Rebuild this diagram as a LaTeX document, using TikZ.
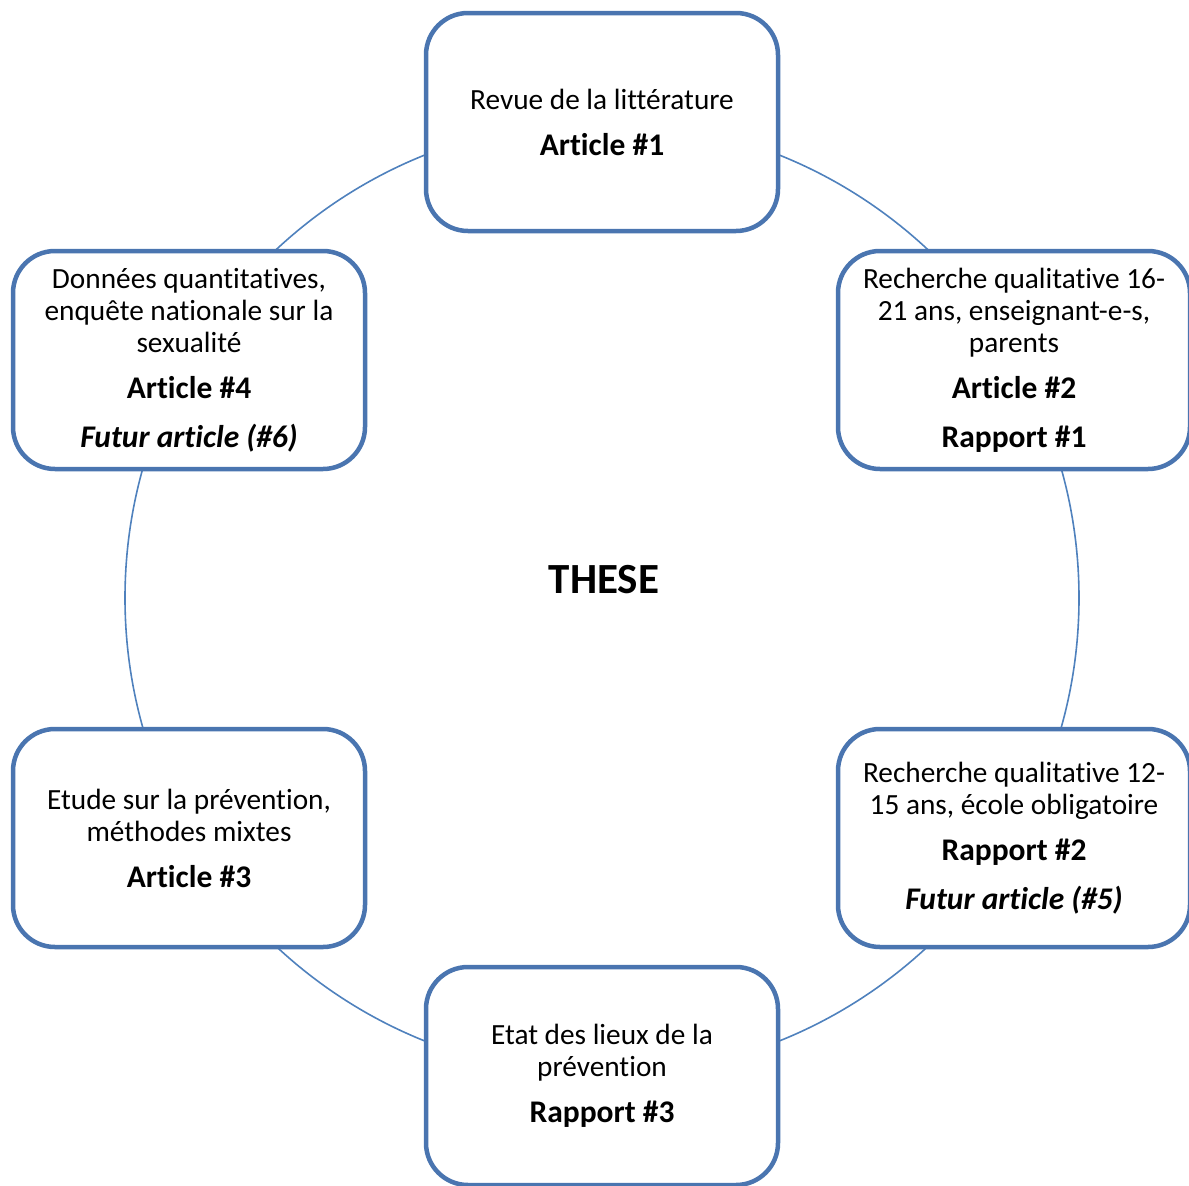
\documentclass[tikz,border=0pt]{standalone}
\usepackage{fontspec}
\setmainfont{Carlito}[Ligatures={NoCommon}]
\definecolor{boxblue}{RGB}{74,117,176}
\definecolor{ringblue}{RGB}{79,129,189}
\newcommand{\bl}[1]{{\fontsize{31.5}{32}\selectfont\bfseries #1}}
\begin{document}
\begin{tikzpicture}[x=1pt,y=-1pt,
  stage/.style={draw=boxblue, line width=4.5pt, fill=white, rounded corners=42pt,
    minimum width=352pt, minimum height=218pt, align=center,
    font=\fontsize{29.3}{32}\selectfont, inner sep=0pt},
  ring/.style={draw=ringblue, line width=1.6pt}]
\useasboundingbox (0,0) rectangle (1189,1186);
\coordinate (C) at (602,598);
\draw[ring] (C) circle (477);
\node[stage] (top) at (602,122) {Revue de la littérature\\[14pt]\bl{Article \#1}};
\node[stage] (tr) at (1014,360) {Recherche qualitative 16-\\21 ans, enseignant-e-s,\\parents\\[14pt]\bl{Article \#2}\\[17pt]\bl{Rapport \#1}};
\node[stage] (br) at (1014,838) {Recherche qualitative 12-\\15 ans, école obligatoire\\[14pt]\bl{Rapport \#2}\\[17pt]\bl{\itshape Futur article (\#5)}};
\node[stage] (bot) at (602,1076) {Etat des lieux de la\\prévention\\[14pt]\bl{Rapport \#3}};
\node[stage] (bl) at (189,838) {Etude sur la prévention,\\méthodes mixtes\\[14pt]\bl{Article \#3}};
\node[stage] (tl) at (189,360) {Données quantitatives,\\enquête nationale sur la\\sexualité\\[14pt]\bl{Article \#4}\\[17pt]\bl{\itshape Futur article (\#6)}};
\node[font=\fontsize{43}{48}\selectfont\bfseries] (these) at (604,580) {THESE};
\end{tikzpicture}
\end{document}
